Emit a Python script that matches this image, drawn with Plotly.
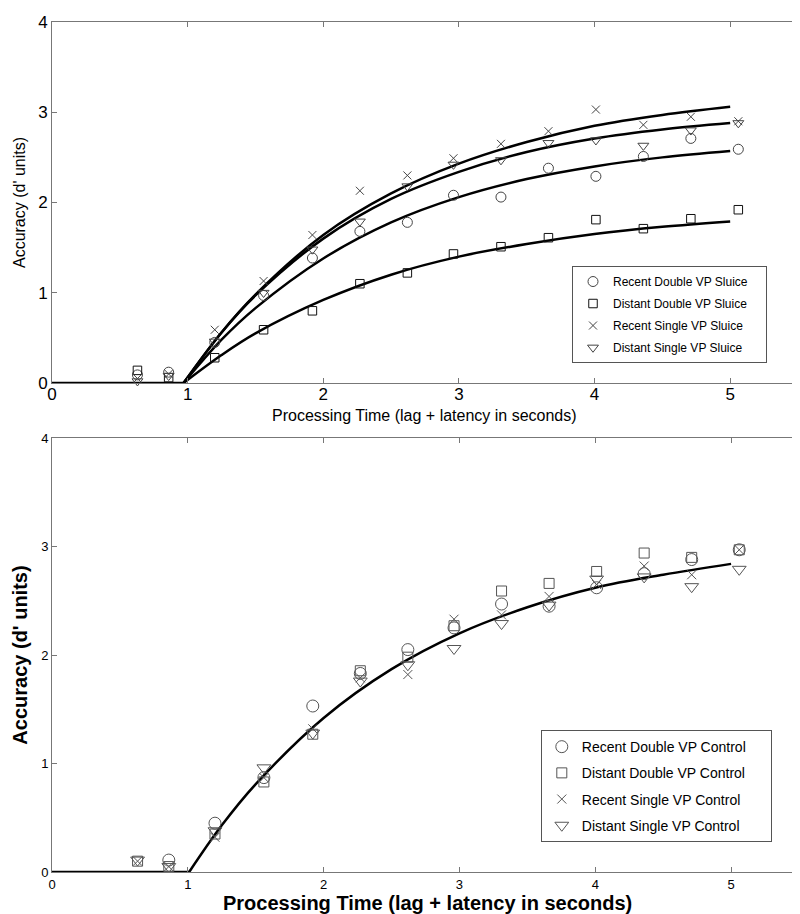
import plotly.graph_objects as go

# ---------------- data ----------------
time_pts = [0.63, 0.86, 1.20, 1.56, 1.92, 2.27, 2.62, 2.96, 3.31, 3.66, 4.01, 4.36, 4.71, 5.06]

# Top panel (Sluice)
sl_recent_double = [0.09, 0.12, 0.45, 0.97, 1.385, 1.68, 1.78, 2.08, 2.06, 2.38, 2.29, 2.51, 2.71, 2.59]
sl_distant_double = [0.14, 0.06, 0.28, 0.59, 0.80, 1.10, 1.22, 1.43, 1.51, 1.61, 1.81, 1.71, 1.82, 1.92]
sl_recent_single = [0.05, 0.10, 0.59, 1.13, 1.64, 2.13, 2.30, 2.49, 2.65, 2.79, 3.03, 2.86, 2.95, 2.90]
sl_distant_single = [0.02, 0.08, 0.46, 1.00, 1.48, 1.79, 2.18, 2.42, 2.47, 2.66, 2.69, 2.63, 2.80, 2.88]

fit_x_top = [0.97, 1.25, 1.5, 2.0, 2.5, 3.0, 3.5, 4.0, 4.5, 5.0]
fit_recent_single = [0, 0.56, 0.98, 1.64, 2.10, 2.43, 2.67, 2.85, 2.97, 3.06]
fit_distant_single = [0, 0.56, 0.97, 1.60, 2.04, 2.34, 2.56, 2.71, 2.81, 2.88]
fit_recent_double = [0, 0.48, 0.83, 1.38, 1.78, 2.06, 2.26, 2.40, 2.50, 2.57]
fit_distant_double = [0, 0.31, 0.55, 0.92, 1.20, 1.40, 1.54, 1.65, 1.73, 1.79]

# Bottom panel (Control)
ct_recent_double = [None, 0.11, 0.45, 0.87, 1.53, 1.83, 2.05, 2.25, 2.47, 2.45, 2.62, 2.75, 2.88, 2.97]
ct_distant_double = [0.10, 0.05, 0.35, 0.83, 1.27, 1.855, 1.98, 2.27, 2.59, 2.66, 2.77, 2.94, 2.90, 2.97]
ct_recent_single = [0.10, 0.05, 0.32, 0.87, 1.32, 1.79, 1.82, 2.33, 2.37, 2.54, 2.65, 2.82, 2.74, 2.97]
ct_distant_single = [0.11, 0.05, 0.38, 0.96, 1.28, 1.76, 1.91, 2.06, 2.29, 2.46, 2.70, 2.72, 2.63, 2.79]

fit_x_bot = [1.01, 1.25, 1.5, 2.0, 2.5, 3.0, 3.5, 4.0, 4.5, 5.0]
fit_control = [0, 0.43, 0.81, 1.42, 1.87, 2.20, 2.44, 2.62, 2.74, 2.84]

x_ticks = [0, 1, 2, 3, 4, 5]
y_ticks = [0, 1, 2, 3, 4]

names_top = ["Recent Double VP Sluice", "Distant Double VP Sluice",
             "Recent Single VP Sluice", "Distant Single VP Sluice"]
names_bot = ["Recent Double VP Control", "Distant Double VP Control",
             "Recent Single VP Control", "Distant Single VP Control"]

FONT = "Liberation Sans, Arial, Helvetica, sans-serif"
PAD_TOP = "\u00a0" * 4
PAD_BOT = "\u00a0" * 5

fig = go.Figure()

# ---- top panel ----
fig.add_trace(go.Scatter(x=[0, fit_x_top[0]], y=[0, 0], mode="lines",
                         line=dict(color="black", width=2.5), showlegend=False,
                         xaxis="x", yaxis="y", hoverinfo="skip"))
for fy in [fit_recent_single, fit_distant_single, fit_recent_double, fit_distant_double]:
    fig.add_trace(go.Scatter(x=fit_x_top, y=fy, mode="lines", line_shape="spline",
                             line=dict(color="black", width=2.5), showlegend=False,
                             xaxis="x", yaxis="y", hoverinfo="skip"))

top_series = [sl_recent_double, sl_distant_double, sl_recent_single, sl_distant_single]
symbols = ["circle-open", "square-open", "x-thin-open", "triangle-down-open"]
top_sizes = [10, 8.5, 8, 9.5]
top_colors = ["#444444", "#111111", "#444444", "#444444"]
for i, (ys, nm, sym, sz, col) in enumerate(zip(top_series, names_top, symbols, top_sizes, top_colors)):
    fig.add_trace(go.Scatter(x=time_pts, y=ys, mode="markers", name=nm + PAD_TOP,
                             legendgroup="t%d" % i,
                             marker=dict(symbol=sym, size=sz, color=col,
                                         line=dict(color=col, width=1)),
                             cliponaxis=False, xaxis="x", yaxis="y", legend="legend"))

# ---- bottom panel ----
fig.add_trace(go.Scatter(x=[0, fit_x_bot[0]], y=[0, 0], mode="lines",
                         line=dict(color="black", width=2.5), showlegend=False,
                         xaxis="x2", yaxis="y2", hoverinfo="skip"))
fig.add_trace(go.Scatter(x=fit_x_bot, y=fit_control, mode="lines", line_shape="spline",
                         line=dict(color="black", width=2.5), showlegend=False,
                         xaxis="x2", yaxis="y2", hoverinfo="skip"))

bot_series = [ct_recent_double, ct_distant_double, ct_recent_single, ct_distant_single]
bot_sizes = [12, 10, 9, 12]
for i, (ys, nm, sym, sz) in enumerate(zip(bot_series, names_bot, symbols, bot_sizes)):
    fig.add_trace(go.Scatter(x=time_pts, y=ys, mode="markers", name=nm + PAD_BOT,
                             legendgroup="b%d" % i,
                             marker=dict(symbol=sym, size=sz, color="#555555",
                                         line=dict(color="#555555", width=1)),
                             cliponaxis=False, xaxis="x2", yaxis="y2", legend="legend2"))

axis_common = dict(showline=True, linecolor="#777777", linewidth=1, mirror="ticks",
                   ticks="inside", ticklen=5, tickcolor="#777777", tickwidth=1,
                   showgrid=False, zeroline=False, automargin=False)

fig.update_layout(
    width=800, height=914,
    margin=dict(l=0, r=0, t=0, b=0),
    paper_bgcolor="white", plot_bgcolor="white",
    font=dict(family=FONT, color="black"),
    xaxis=dict(domain=[0.055, 0.9875], anchor="y", range=[0, 5.5], tickvals=x_ticks,
               tickfont=dict(size=17), ticklabelstandoff=-4, **axis_common),
    yaxis=dict(domain=[0.5897, 0.9847], anchor="x", range=[0, 4], tickvals=y_ticks,
               tickfont=dict(size=17),
               title=dict(text="Accuracy (d' units)", font=dict(size=16), standoff=8),
               **axis_common),
    xaxis2=dict(domain=[0.055, 0.98875], anchor="y2", range=[0, 5.5], tickvals=x_ticks,
                tickfont=dict(size=13), **axis_common),
    yaxis2=dict(domain=[0.0547, 0.5295], anchor="x2", range=[0, 4], tickvals=y_ticks,
                tickfont=dict(size=13),
                title=dict(text="<b>Accuracy (d' units)</b>", font=dict(size=20), standoff=8),
                **axis_common),
    legend=dict(x=0.705, y=0.7177, xanchor="left", yanchor="top",
                bordercolor="#555555", borderwidth=1, bgcolor="white",
                tracegroupgap=3,
                font=dict(size=12, family=FONT)),
    legend2=dict(x=0.666, y=0.21, xanchor="left", yanchor="top",
                 bordercolor="#555555", borderwidth=1, bgcolor="white",
                 tracegroupgap=5,
                 font=dict(size=14, family=FONT)),
    annotations=[
        dict(text="Processing Time (lag + latency in seconds)", x=0.521, y=0.5547,
             xref="paper", yref="paper", showarrow=False, font=dict(size=16),
             xanchor="center", yanchor="middle"),
        dict(text="<b>Processing Time (lag + latency in seconds)</b>", x=0.524, y=0.0208,
             xref="paper", yref="paper", showarrow=False, font=dict(size=20),
             xanchor="center", yanchor="middle"),
    ],
)

fig.write_html("out.html")
